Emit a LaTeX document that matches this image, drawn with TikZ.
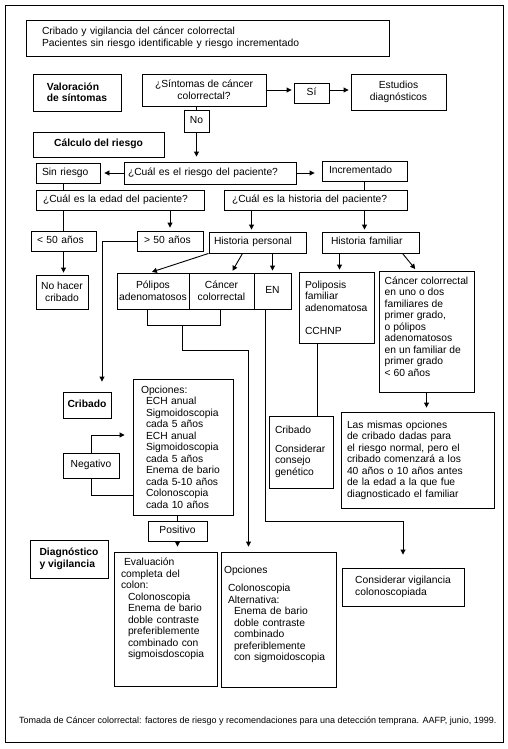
\documentclass[tikz,border=0pt]{standalone}
\usepackage{fontspec}
\setmainfont{Liberation Sans}
\usetikzlibrary{arrows.meta}
\tikzset{
  box/.style={draw, line width=0.9pt, inner sep=0pt, font=\fontsize{10.3}{11.5}\selectfont},
  hd/.style={box, font=\fontsize{10.3}{11.5}\selectfont\bfseries},
  one/.style={text height=7.6pt, text depth=3.2pt},
  link/.style={line width=0.9pt},
  arr/.style={link, -{Triangle[length=5pt,width=5pt]}, shorten >=2pt}
}

\begin{document}
\begin{tikzpicture}[x=1pt,y=-1pt]
            \useasboundingbox (0,0) rectangle (507,749);
            \draw[line width=0.9pt] (5,5) rectangle (503,742);
            \node[box, minimum width=363pt, minimum height=36pt, text width=331pt, align=left] (title) at (207.5,38) {Cribado y vigilancia del cáncer colorrectal\\Pacientes sin riesgo identificable y riesgo incrementado};
            \node[hd, minimum width=88pt, minimum height=37pt, align=left] (val) at (77,92.5) {Valoración\\de síntomas};
            \node[box, minimum width=124pt, minimum height=32pt, align=center] (sint) at (204,90) {¿Síntomas de cáncer\\colorrectal?};
            \node[box, one, minimum width=35pt, minimum height=20pt] (si) at (311.5,93) {Sí};
            \node[box, minimum width=95pt, minimum height=36pt, align=center] (est) at (398.5,92) {Estudios\\diagnósticos};
            \node[box, one, minimum width=25pt, minimum height=22pt] (no) at (196.5,121) {No};
            \node[hd, one, minimum width=131pt, minimum height=25pt] (calc) at (98.5,144.5) {Cálculo del riesgo};
            \node[box, one, minimum width=64pt, minimum height=20pt, text width=52pt, align=left] (sinr) at (68,173) {Sin riesgo};
            \node[box, one, minimum width=172pt, minimum height=22pt, text width=164pt, align=left] (riesgo) at (210,173) {¿Cuál es el riesgo del paciente?};
            \node[box, one, minimum width=85pt, minimum height=20pt, text width=71pt, align=left] (incr) at (364.5,171) {Incrementado};
            \node[box, one, minimum width=168pt, minimum height=20pt, text width=154pt, align=left] (edad) at (120,200) {¿Cuál es la edad del paciente?};
            \node[box, one, minimum width=183pt, minimum height=20pt, text width=167pt, align=left] (hist) at (315.5,200) {¿Cuál es la historia del paciente?};
            \node[box, one, minimum width=65pt, minimum height=20pt, text width=53pt, align=left] (lt50) at (63.5,241) {< 50 años};
            \node[box, one, minimum width=66pt, minimum height=20pt, text width=52pt, align=left] (gt50) at (170,241) {> 50 años};
            \node[box, one, minimum width=97pt, minimum height=21pt, text width=87pt, align=left] (hp) at (257.5,242.5) {Historia personal};
            \node[box, one, minimum width=97pt, minimum height=21pt, text width=79pt, align=left] (hf) at (370.5,242.5) {Historia familiar};
            \node[box, minimum width=52pt, minimum height=34pt, align=center] (noh) at (62,292) {No hacer\\cribado};
            \node[box, minimum width=72pt, minimum height=36pt, align=center] (pol) at (153,291) {Pólipos\\adenomatosos};
            \node[box, minimum width=65pt, minimum height=36pt, align=center] (cc) at (221.5,291) {Cáncer\\colorrectal};
            \node[box, one, minimum width=37pt, minimum height=36pt] (en) at (272.5,291) {EN};
            \node[box, minimum width=75pt, minimum height=71pt, text width=63pt, align=left] (poly) at (336.5,307.5) {Poliposis\\familiar\\adenomatosa\\[11.5pt]CCHNP};
            \node[box, minimum width=95pt, minimum height=121pt, align=left, text depth=10pt] (cu) at (426.5,331.5) {Cáncer colorrectal\\en uno o dos\\familiares de\\primer grado,\\o pólipos\\adenomatosos\\en un familiar de\\primer grado\\< 60 años};
            \node[hd, one, minimum width=48pt, minimum height=26pt] (crib) at (87,405) {Cribado};
            \node[box, minimum width=100pt, minimum height=136pt, text width=84pt, align=left] (opc) at (183,447) {Opciones:\\\hspace*{5pt}ECH anual\\\hspace*{5pt}Sigmoidoscopia\\\hspace*{5pt}cada 5 años\\\hspace*{5pt}ECH anual\\\hspace*{5pt}Sigmoidoscopia\\\hspace*{5pt}cada 5 años\\\hspace*{5pt}Enema de bario\\\hspace*{5pt}cada 5-10 años\\\hspace*{5pt}Colonoscopia\\\hspace*{5pt}cada 10 años};
            \node[box, one, minimum width=56pt, minimum height=25pt] (neg) at (91,465.5) {Negativo};
            \node[box, minimum width=64pt, minimum height=72pt, text width=52pt, align=left] (cribf) at (301,452) {Cribado\\[7pt]Considerar\\consejo\\genético};
            \node[box, minimum width=153pt, minimum height=96pt, text width=141pt, align=left] (lm) at (417.5,460) {Las mismas opciones\\de cribado dadas para\\el riesgo normal, pero el\\cribado comenzará a los\\40 años o 10 años antes\\de la edad a la que fue\\diagnosticado el familiar};
            \node[box, one, minimum width=59pt, minimum height=20pt] (pos) at (177.5,531) {Positivo};
            \node[hd, minimum width=78pt, minimum height=38pt, align=left] (diag) at (69,559) {Diagnóstico\\y vigilancia};
            \node[box, minimum width=103pt, minimum height=134pt, text width=89pt, align=left, text depth=114pt] (ev) at (165.5,619) {\hspace*{3pt}Evaluación\\completa del\\colon:\\\hspace*{7pt}Colonoscopia\\\hspace*{7pt}Enema de bario\\\hspace*{7pt}doble contraste\\\hspace*{7pt}preferiblemente\\\hspace*{7pt}combinado con\\\hspace*{7pt}sigmoisdoscopia};
            \node[box, minimum width=115pt, minimum height=135pt, text width=109pt, align=left, text depth=99pt] (opd) at (278.5,619.5) {Opciones\\[6.5pt]\hspace*{4pt}Colonoscopia\\\hspace*{4pt}Alternativa:\\\hspace*{10pt}Enema de bario\\\hspace*{10pt}doble contraste\\\hspace*{10pt}combinado\\\hspace*{10pt}preferiblemente\\\hspace*{10pt}con sigmoidoscopia};
            \node[box, minimum width=122pt, minimum height=38pt, align=left] (cv) at (403,587) {Considerar vigilancia\\colonoscopiada};
            \node[anchor=west, inner sep=0pt, font=\fontsize{9}{10}\selectfont] (src) at (19,721) {Tomada de Cáncer colorrectal: factores de riesgo y recomendaciones para una detección temprana. AAFP, junio, 1999.};
            \draw[arr] (sint.east) -- (sint.east -| si.west);
            \draw[arr] (sint.east -| si.east) -- (sint.east -| est.west);
            \draw[link] (no.north |- sint.south) -- (no.north);
            \draw[arr, shorten >=5pt] (no.south) -- (no.south |- riesgo.north);
            \draw[arr, shorten >=4pt] (riesgo.west) -- (riesgo.west -| sinr.east);
            \draw[arr, shorten >=7pt] (riesgo.east) -- (riesgo.east -| incr.west);
            \draw[link] (lt50.north |- sinr.south) -- (lt50.north |- edad.north);
            \draw[link] (incr.south) -- (incr.south |- hist.north);
            \draw[link] (lt50.north |- edad.south) -- (lt50.north);
            \draw[arr, shorten >=3pt] (gt50.north |- edad.south) -- (gt50.north);
            \draw[arr] ([xshift=-6pt]hp.north |- hist.south) -- ([xshift=-6pt]hp.north);
            \draw[arr] (incr.south |- hist.south) -- (incr.south |- hf.north);
            \draw[arr] (hp.south west) -- ([xshift=-3pt]pol.north);
            \draw[arr] ([xshift=-15pt]hp.south) -- ([xshift=10pt]cc.north);
            \draw[arr] (en.north |- hp.south) -- (en.north);
            \draw[arr] ([xshift=3pt]poly.north |- hf.south) -- ([xshift=3pt]poly.north);
            \draw[arr] ([xshift=32pt]hf.south) -- ([xshift=-10pt]cu.north);
            \draw[arr] (lt50.south) -- (lt50.south |- noh.north);
            \draw[arr, shorten >=10pt] (gt50.west) -| ([xshift=15pt]crib.north);
            \draw[link] ([xshift=-6pt]pol.south) -- ++(0,16) -| ([xshift=-1.5pt]cc.south);
            \coordinate (polcc) at (182,325);
            \draw[arr, shorten >=5pt] (polcc) -- ++(0,25) -| ([xshift=-30pt]opd.north);
            \draw[arr, shorten >=13pt] ([xshift=-7.5pt]en.south) -- ++(0,212) -| (cv.north);
            \draw[link] ([xshift=-19.5pt]poly.south) -- ([xshift=-19.5pt]poly.south |- cribf.north);
            \draw[arr, shorten >=4pt] (cu.south) -- (cu.south |- lm.north);
            \draw[arr, shorten >=8pt] (neg.north) |- ([yshift=12pt]opc.west);
            \draw[link] ([yshift=-48pt]opc.west) -| (neg.south);
            \draw[link] (pos.north |- opc.south) -- (pos.north);
            \draw[arr, shorten >=5pt] (pos.south) -- (pos.south |- ev.north);
        \end{tikzpicture}
\end{document}
